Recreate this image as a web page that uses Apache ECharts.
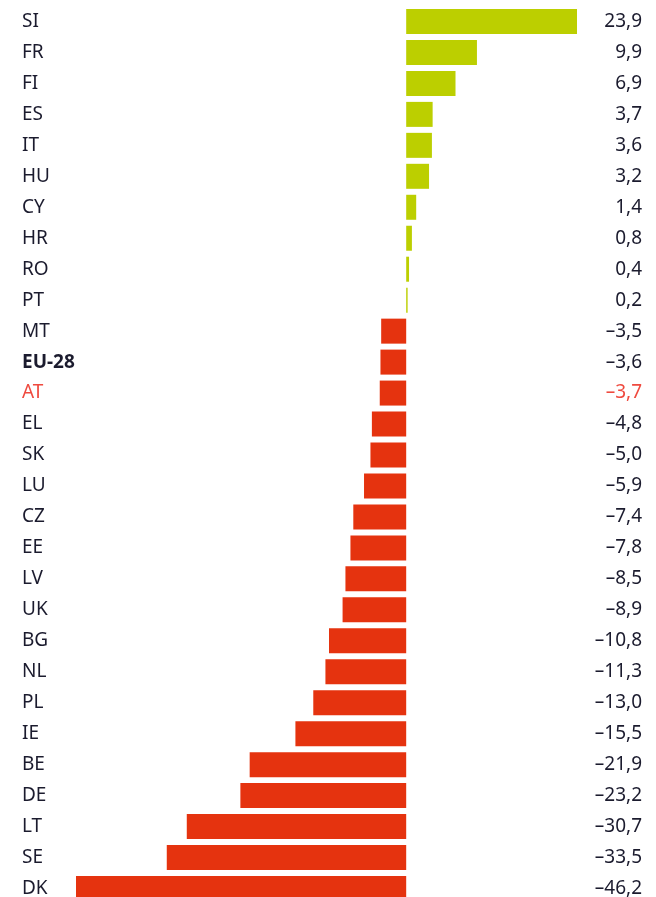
<!DOCTYPE html>
<html><head><meta charset="utf-8">
<script src="https://cdn.jsdelivr.net/npm/echarts@6/dist/echarts.min.js"></script>
<style>html,body{margin:0;padding:0;background:#fff;overflow:hidden}#c{width:656px;height:910px}</style>
</head><body><div id="c"></div>
<script>
const categories = ['SI','FR','FI','ES','IT','HU','CY','HR','RO','PT','MT','EU-28','AT','EL','SK','LU','CZ','EE','LV','UK','BG','NL','PL','IE','BE','DE','LT','SE','DK'];
const values = [23.9,9.9,6.9,3.7,3.6,3.2,1.4,0.8,0.4,0.2,-3.5,-3.6,-3.7,-4.8,-5.0,-5.9,-7.4,-7.8,-8.5,-8.9,-10.8,-11.3,-13.0,-15.5,-21.9,-23.2,-30.7,-33.5,-46.2];
const boldCategory = 'EU-28';
const highlightCategory = 'AT';

const fmt = v => (v < 0 ? '\u2013' : '') + Math.abs(v).toFixed(1).replace('.', ',');
const valueLabels = values.map(fmt);
const GREEN = '#bccf00', RED = '#e5330f', TEXT = '#1b1b2e', HL = '#ef4a3f';
const FONT = '"Noto Sans", sans-serif';

function styled(name, text, allowBold) {
  if (allowBold && name === boldCategory) return '{b|' + text + '}';
  if (name === highlightCategory) return '{h|' + text + '}';
  return '{n|' + text + '}';
}
const rich = {
  n: {color: TEXT, fontSize: 19, fontFamily: FONT},
  b: {color: TEXT, fontSize: 19, fontFamily: FONT, fontWeight: 'bold'},
  h: {color: HL, fontSize: 19, fontFamily: FONT}
};

const chart = echarts.init(document.getElementById('c'));
chart.setOption({
  animation: false,
  grid: {left: 76, right: 79, top: 6, height: 898, containLabel: false},
  xAxis: {type: 'value', min: -46.2, max: 23.9, show: false},
  yAxis: [
    {type: 'category', data: categories, inverse: true, position: 'left',
     axisLine: {show: false}, axisTick: {show: false},
     axisLabel: {align: 'left', margin: 54, formatter: v => styled(v, v, true), rich: rich}},
    {type: 'category', data: categories, inverse: true, position: 'right',
     axisLine: {show: false}, axisTick: {show: false},
     axisLabel: {align: 'right', margin: 65,
       formatter: (v, i) => styled(v, valueLabels[i], false), rich: rich}}
  ],
  series: [{
    type: 'bar', yAxisIndex: 0, barWidth: 25,
    data: values.map(v => ({value: v, itemStyle: {color: v >= 0 ? GREEN : RED}}))
  }]
});
</script></body></html>
